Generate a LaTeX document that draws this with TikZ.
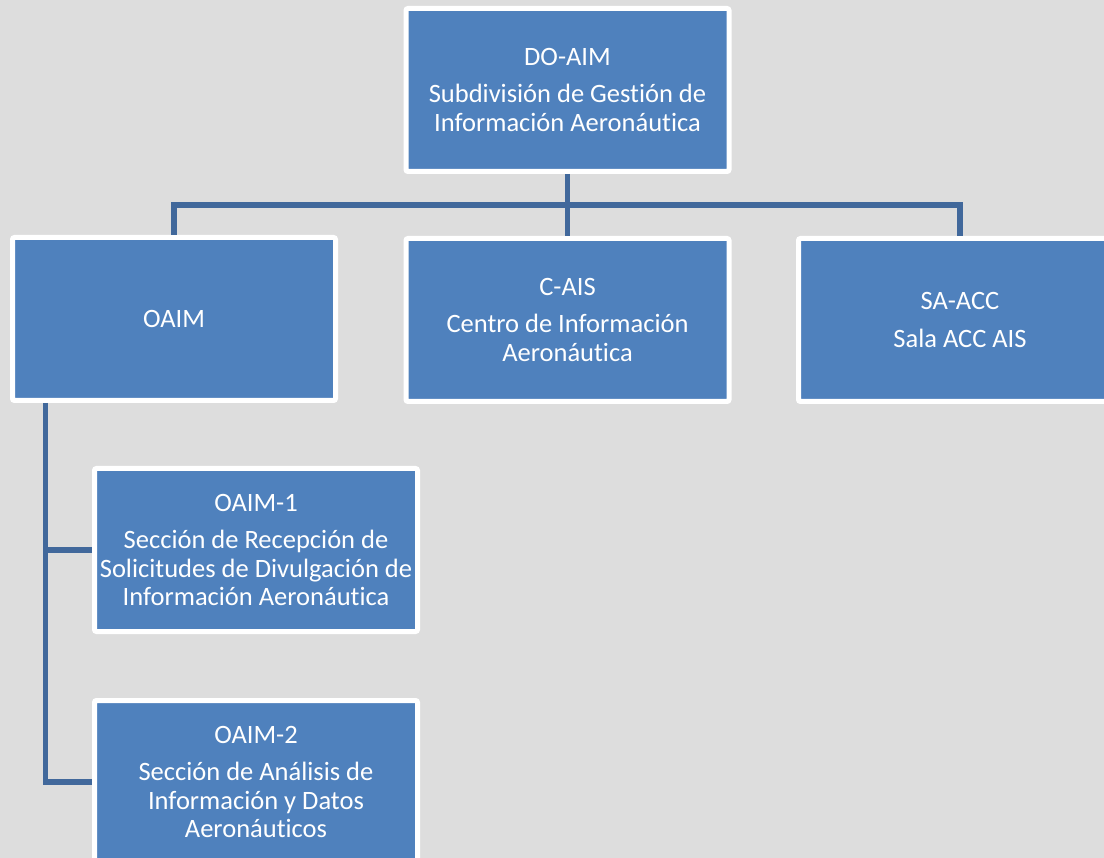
\documentclass[tikz,border=0pt]{standalone}
\usepackage{fontspec}
\setmainfont{Carlito}[Ligatures=NoCommon]
\usepackage{tikz}
\usetikzlibrary{positioning}

\definecolor{fondo}{HTML}{DDDDDD}
\definecolor{caja}{HTML}{4F81BD}
\definecolor{linea}{HTML}{41689B}

\tikzset{
  caja/.style={draw=white, line width=5pt, fill=caja, rounded corners=2pt,
    minimum width=323pt, minimum height=163pt, inner sep=0pt,
    align=center, text=white, font=\fontsize{26.5}{28.5}\selectfont},
  enlace/.style={draw=linea, line width=5.5pt}
}

\begin{document}
\begin{tikzpicture}[x=1pt,y=-1pt]
\clip (0,0) rectangle (1104,858);
\fill[fondo] (0,0) rectangle (1104,858);

% nivel superior
\node [caja] (doaim) at (567.5,90) {DO-AIM\\[9pt]Subdivisión de Gestión de\\Información Aeronáutica};

% segundo nivel
\node [caja] (oaim) at (174,319) {OAIM};
\node [caja] (cais) at (567.5,320) {C-AIS\\[9pt]Centro de Información\\Aeronáutica};
\node [caja] (saacc) at (960,320) {SA-ACC\\[9pt]Sala ACC AIS};

% secciones de OAIM
\node [caja] (oaim1) at (256,550) {OAIM-1\\[9pt]Sección de Recepción de\\Solicitudes de Divulgación de\\Información Aeronáutica};
\node [caja] (oaim2) at (256,782) {OAIM-2\\[9pt]Sección de Análisis de\\Información y Datos\\Aeronáuticos};

% conectores
\coordinate (bus) at (567.5,205);
\coordinate (eje) at (45.5,403);
\draw [enlace] (doaim.south) -- (bus);
\draw [enlace] (oaim.north) |- (bus) -| (saacc.north);
\draw [enlace] (bus) -- (cais.north);
\draw [enlace] (eje) |- (oaim2.west);
\draw [enlace] (eje |- oaim1.west) -- (oaim1.west);
\end{tikzpicture}
\end{document}
